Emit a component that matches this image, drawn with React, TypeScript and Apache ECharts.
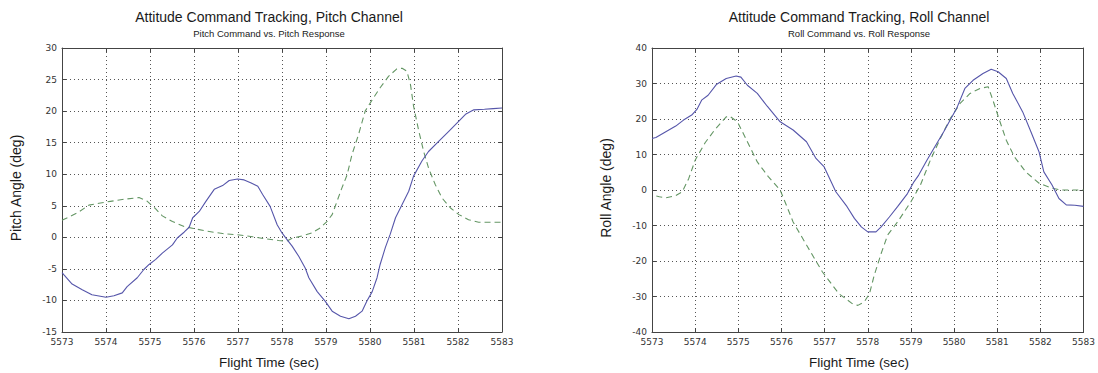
import React, { useEffect, useRef } from "react";
import * as echarts from "echarts";

// ---- Data ----
const pitchRespT = [5573.0, 5573.05, 5573.23, 5573.46, 5573.68, 5574.0, 5574.18, 5574.37, 5574.48, 5574.71, 5574.86, 5574.98, 5575.13, 5575.28, 5575.51, 5575.62, 5575.78, 5575.89, 5575.97, 5576.12, 5576.27, 5576.46, 5576.65, 5576.8, 5576.99, 5577.14, 5577.3, 5577.45, 5577.56, 5577.73, 5577.89, 5578.0, 5578.08, 5578.23, 5578.38, 5578.53, 5578.61, 5578.8, 5578.98, 5579.14, 5579.33, 5579.52, 5579.67, 5579.82, 5579.93, 5580.05, 5580.16, 5580.23, 5580.35, 5580.46, 5580.58, 5580.73, 5580.88, 5580.99, 5581.18, 5581.33, 5581.56, 5581.79, 5582.02, 5582.17, 5582.36, 5582.6, 5582.8, 5583.0];
const pitchRespV = [-5.6, -6.0, -7.4, -8.3, -9.1, -9.5, -9.25, -8.8, -7.8, -6.4, -5.1, -4.3, -3.5, -2.5, -1.2, -0.1, 0.85, 1.6, 3.1, 4.1, 5.7, 7.6, 8.2, 9.0, 9.25, 9.1, 8.6, 8.1, 6.8, 4.9, 2.0, 0.7, -0.05, -1.4, -3.0, -4.9, -6.4, -8.6, -10.1, -11.7, -12.5, -12.9, -12.5, -11.7, -10.1, -8.6, -6.4, -4.3, -1.6, 0.5, 3.1, 5.2, 7.3, 9.7, 12.1, 13.6, 15.2, 16.8, 18.4, 19.5, 20.2, 20.3, 20.4, 20.5];

const pitchCmdT = [5573.0, 5573.38, 5573.61, 5573.84, 5574.1, 5574.37, 5574.75, 5574.94, 5575.13, 5575.28, 5575.51, 5575.78, 5575.99, 5576.27, 5576.65, 5576.99, 5577.33, 5577.64, 5577.92, 5578.11, 5578.23, 5578.45, 5578.68, 5578.87, 5579.02, 5579.14, 5579.25, 5579.36, 5579.48, 5579.59, 5579.74, 5579.89, 5580.05, 5580.23, 5580.42, 5580.61, 5580.73, 5580.84, 5580.92, 5580.99, 5581.11, 5581.22, 5581.33, 5581.48, 5581.64, 5581.83, 5582.02, 5582.24, 5582.47, 5583.0];
const pitchCmdV = [2.7, 4.0, 5.1, 5.4, 5.7, 6.0, 6.3, 5.7, 4.5, 3.4, 2.5, 1.7, 1.4, 1.0, 0.6, 0.4, 0.1, -0.25, -0.5, -0.6, -0.15, 0.2, 0.7, 1.5, 2.5, 3.6, 5.7, 7.8, 9.9, 13.1, 16.3, 20.0, 21.8, 23.7, 25.5, 26.7, 26.8, 26.3, 24.2, 20.8, 16.8, 13.6, 11.0, 8.4, 6.2, 4.65, 3.6, 2.8, 2.4, 2.4];

const rollRespT = [5573.0, 5573.09, 5573.32, 5573.55, 5573.73, 5573.92, 5574.04, 5574.15, 5574.3, 5574.49, 5574.72, 5574.95, 5575.06, 5575.21, 5575.44, 5575.67, 5575.97, 5576.27, 5576.58, 5576.8, 5576.99, 5577.26, 5577.52, 5577.69, 5577.85, 5578.0, 5578.19, 5578.31, 5578.5, 5578.69, 5578.92, 5579.07, 5579.18, 5579.37, 5579.53, 5579.76, 5579.91, 5580.06, 5580.25, 5580.44, 5580.67, 5580.86, 5581.02, 5581.21, 5581.36, 5581.59, 5581.78, 5581.97, 5582.08, 5582.27, 5582.43, 5582.6, 5582.8, 5583.0];
const rollRespV = [14.5, 14.8, 16.4, 18.0, 19.7, 21.1, 22.7, 25.3, 26.7, 29.7, 31.4, 32.1, 31.8, 29.5, 27.2, 23.6, 19.2, 16.9, 13.6, 8.9, 6.5, -0.5, -4.7, -8.0, -10.4, -11.8, -11.8, -10.4, -7.6, -4.7, -1.0, 2.3, 4.2, 8.4, 11.7, 16.4, 19.7, 23.0, 28.6, 30.9, 32.8, 34.0, 33.3, 31.4, 27.2, 22.0, 16.4, 10.7, 5.1, 1.4, -2.4, -4.2, -4.3, -4.6];

const rollCmdT = [5573.1, 5573.17, 5573.32, 5573.55, 5573.7, 5573.85, 5574.0, 5574.23, 5574.45, 5574.72, 5574.8, 5574.98, 5575.21, 5575.44, 5575.7, 5575.97, 5576.27, 5576.58, 5576.95, 5577.33, 5577.64, 5577.77, 5577.92, 5578.04, 5578.15, 5578.31, 5578.46, 5578.69, 5579.0, 5579.22, 5579.45, 5579.68, 5579.91, 5580.14, 5580.37, 5580.6, 5580.79, 5580.9, 5581.05, 5581.21, 5581.4, 5581.66, 5581.97, 5582.27, 5582.47, 5583.0];
const rollCmdV = [-1.7, -1.9, -2.2, -1.6, -0.5, 3.2, 8.4, 13.3, 16.9, 20.6, 20.8, 19.2, 13.6, 7.9, 3.7, 0, -9.0, -15.5, -23.1, -29.2, -32.0, -32.5, -31.5, -29.2, -24.0, -17.9, -12.7, -9.0, -3.3, 1.4, 8.4, 14.5, 20.1, 24.4, 27.2, 28.6, 29.1, 25.3, 19.7, 14.0, 9.3, 5.1, 1.9, 0.5, 0, 0];

const xMin = 5573;
const xMax = 5583;
const pitchYMin = -15;
const pitchYMax = 30;
const rollYMin = -40;
const rollYMax = 40;

const titles = ["Attitude Command Tracking, Pitch Channel", "Attitude Command Tracking, Roll Channel"];
const subtitles = ["Pitch Command vs. Pitch Response", "Roll Command vs. Roll Response"];
const yNames = ["Pitch Angle (deg)", "Roll Angle (deg)"];
const xName = "Flight Time (sec)";

const zip = (t: number[], v: number[]) => t.map((x, i) => [x, v[i]]);

const AXIS_COLOR = "#444";
const GRID_COLOR = "#555";
const BLUE = "#5656aa";
const GREEN = "#649664";
const LABEL_FONT = "DejaVu Sans";
const TEXT_FONT = "Liberation Sans";

function makeAxes(gridIndex: number, yMin: number, yMax: number, yInt: number) {
  const tickStyle = { show: true, inside: true, length: 4, lineStyle: { color: AXIS_COLOR, width: 1 } };
  const lineStyle = { show: true, onZero: false, lineStyle: { color: AXIS_COLOR, width: 1 } };
  const split = { show: true, lineStyle: { color: GRID_COLOR, width: 1, type: [1, 3] as number[] } };
  const label = { fontSize: 9, color: "#333", fontFamily: LABEL_FONT, margin: 5, formatter: (v: number) => String(v) };
  const xAxes = [
    { type: "value", gridIndex, min: xMin, max: xMax, interval: 1, position: "bottom", axisLine: lineStyle, axisTick: tickStyle, axisLabel: label, splitLine: split },
    { type: "value", gridIndex, min: xMin, max: xMax, interval: 1, position: "top", axisLine: lineStyle, axisTick: tickStyle, axisLabel: { show: false }, splitLine: { show: false } },
  ];
  const yAxes = [
    { type: "value", gridIndex, min: yMin, max: yMax, interval: yInt, position: "left", axisLine: lineStyle, axisTick: tickStyle, axisLabel: label, splitLine: split },
    { type: "value", gridIndex, min: yMin, max: yMax, interval: yInt, position: "right", axisLine: lineStyle, axisTick: tickStyle, axisLabel: { show: false }, splitLine: { show: false } },
  ];
  return { xAxes, yAxes };
}

export default function App() {
  const ref = useRef<HTMLDivElement>(null);
  useEffect(() => {
    if (!ref.current) return;
    const chart = echarts.init(ref.current, undefined, { renderer: "svg" });
    const a0 = makeAxes(0, pitchYMin, pitchYMax, 5);
    const a1 = makeAxes(1, rollYMin, rollYMax, 10);
    const lineSeries = (name: string, xi: number, yi: number, data: number[][], color: string, dashed: boolean) => ({
      name,
      type: "line",
      xAxisIndex: xi,
      yAxisIndex: yi,
      data,
      showSymbol: false,
      symbol: "none",
      smooth: false,
      lineStyle: { color, width: 1.1, type: dashed ? [6, 4] : "solid" },
      z: dashed ? 3 : 4,
    });
    const centers = [269, 859];
    const textEl = (x: number, y: number, text: string, size: number, rot = 0) => ({
      type: "text",
      x,
      y,
      rotation: rot,
      style: { text, fontSize: size, fontFamily: TEXT_FONT, fill: "#1a1a1a", textAlign: "center", textVerticalAlign: "middle" },
    });
    chart.setOption({
      animation: false,
      backgroundColor: "#fff",
      grid: [
        { left: 62, top: 48, width: 440, height: 284, show: false },
        { left: 652, top: 48, width: 437, height: 284, show: false },
      ],
      xAxis: [...a0.xAxes, ...a1.xAxes],
      yAxis: [...a0.yAxes, ...a1.yAxes],
      series: [
        lineSeries("Pitch Command", 0, 0, zip(pitchCmdT, pitchCmdV), GREEN, true),
        lineSeries("Pitch Response", 0, 0, zip(pitchRespT, pitchRespV), BLUE, false),
        lineSeries("Roll Command", 2, 2, zip(rollCmdT, rollCmdV), GREEN, true),
        lineSeries("Roll Response", 2, 2, zip(rollRespT, rollRespV), BLUE, false),
      ],
      graphic: [
        textEl(centers[0], 17, titles[0], 14),
        textEl(centers[0], 33, subtitles[0], 9.5),
        textEl(centers[1], 17, titles[1], 14),
        textEl(centers[1], 33, subtitles[1], 9.5),
        textEl(16, 188, yNames[0], 14, Math.PI / 2),
        textEl(606, 188, yNames[1], 14, Math.PI / 2),
        textEl(centers[0], 362, xName, 13.5),
        textEl(centers[1], 362, xName, 13.5),
      ],
    });
    return () => chart.dispose();
  }, []);
  return <div ref={ref} style={{ position: "fixed", left: 0, top: 0, width: 1098, height: 373, background: "#fff" }} />;
}
